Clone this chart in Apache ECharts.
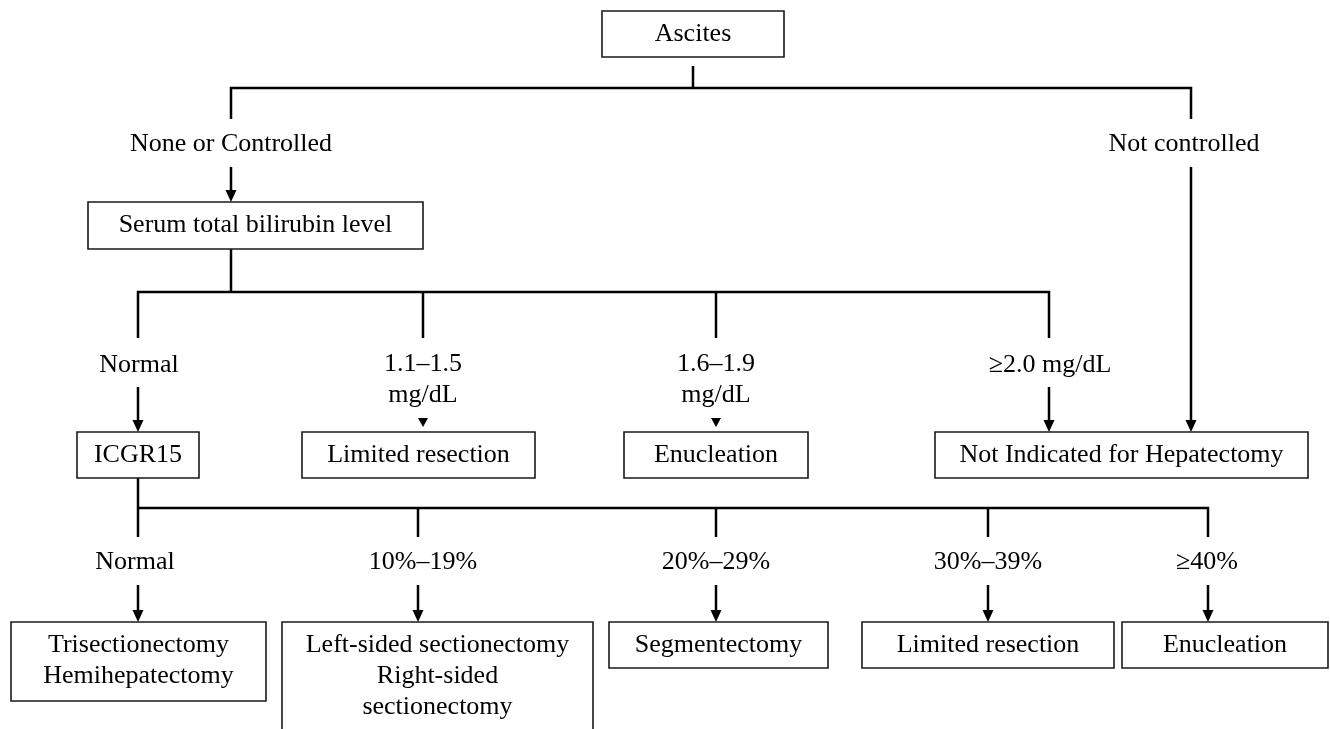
<!DOCTYPE html>
<html>
<head>
<meta charset="utf-8">
<script src="https://cdn.jsdelivr.net/npm/echarts@6/dist/echarts.min.js"></script>
<style>
html,body{margin:0;padding:0;background:#ffffff;}
#c{width:1330px;height:729px;}
</style>
</head>
<body>
<div id="c"></div>
<script>
// ---- content ----
const boxLabels = [
  'Ascites',
  'Serum total bilirubin level',
  'ICGR15',
  'Limited resection',
  'Enucleation',
  'Not Indicated for Hepatectomy',
  'Trisectionectomy\nHemihepatectomy',
  'Left-sided sectionectomy\nRight-sided\nsectionectomy',
  'Segmentectomy',
  'Limited resection',
  'Enucleation'
];
const branchLabels = [
  'None or Controlled',
  'Not controlled',
  'Normal',
  '1.1\u20131.5\nmg/dL',
  '1.6\u20131.9\nmg/dL',
  '\u22652.0 mg/dL',
  'Normal',
  '10%\u201319%',
  '20%\u201329%',
  '30%\u201339%',
  '\u226540%'
];

// ---- layout (pixel space of the 1330x729 canvas) ----
const boxRects = [
  [602, 11, 784, 57],
  [88, 202, 423, 249],
  [77, 432, 199, 478],
  [302, 432, 535, 478],
  [624, 432, 808, 478],
  [935, 432, 1308, 478],
  [11, 622, 266, 701],
  [282, 622, 593, 750],
  [609, 622, 828, 668],
  [862, 622, 1114, 668],
  [1122, 622, 1328, 668]
];
const labelPos = [
  [231, 144], [1184, 144],
  [139, 365], [423, 380], [716, 380], [1050, 365],
  [135, 562], [423, 562], [716, 562], [988, 562], [1207, 562]
];
const connectorPaths = [
  [[693, 66], [693, 88]],
  [[231, 119], [231, 88], [1191, 88], [1191, 119]],
  [[231, 249], [231, 292]],
  [[138, 338], [138, 292], [1049, 292], [1049, 338]],
  [[423, 292], [423, 338]],
  [[716, 292], [716, 338]],
  [[138, 478], [138, 537]],
  [[138, 508], [1208, 508], [1208, 537]],
  [[418, 508], [418, 537]],
  [[716, 508], [716, 537]],
  [[988, 508], [988, 537]]
];
const arrowDefs = [
  [231, 167, 202],
  [1191, 167, 432],
  [138, 387, 432],
  [1049, 387, 432],
  [138, 585, 622],
  [418, 585, 622],
  [716, 585, 622],
  [988, 585, 622],
  [1208, 585, 622]
];
const tipDefs = [
  [423, 418, 427],
  [716, 418, 427]
];

const FONT = '26px "Liberation Serif", "Times New Roman", serif';
const LINE_H = 31;

const chart = echarts.init(document.getElementById('c'), null, {renderer: 'canvas'});

const option = {
  animation: false,
  backgroundColor: '#ffffff',
  grid: {left: 0, right: 0, top: 0, bottom: 0},
  xAxis: {type: 'value', min: 0, max: 1330, show: false},
  yAxis: {type: 'value', min: 0, max: 729, inverse: true, show: false},
  series: [
    {
      type: 'custom',
      name: 'connectors',
      data: connectorPaths.map((pts, i) => [pts[0][0], pts[0][1], i]),
      renderItem: (params, api) => {
        const pts = connectorPaths[api.value(2)].map(p => api.coord(p));
        return {
          type: 'polyline',
          shape: {points: pts},
          style: {stroke: '#000', lineWidth: 2.5, fill: null, lineJoin: 'miter'}
        };
      }
    },
    {
      type: 'custom',
      name: 'arrows',
      data: arrowDefs.map(a => [a[0], a[1], a[2]]),
      renderItem: (params, api) => {
        const x = api.value(0);
        const a = api.coord([x, api.value(1)]);
        const b = api.coord([x, api.value(2)]);
        const len = 12, half = 5.5;
        return {
          type: 'group',
          children: [
            {type: 'line', shape: {x1: a[0], y1: a[1], x2: b[0], y2: b[1] - len + 1},
             style: {stroke: '#000', lineWidth: 2.5}},
            {type: 'polygon', shape: {points: [[b[0] - half, b[1] - len], [b[0] + half, b[1] - len], [b[0], b[1]]]},
             style: {fill: '#000'}}
          ]
        };
      }
    },
    {
      type: 'custom',
      name: 'tips',
      data: tipDefs.map(t => [t[0], t[1], t[2]]),
      renderItem: (params, api) => {
        const x = api.value(0);
        const a = api.coord([x, api.value(1)]);
        const b = api.coord([x, api.value(2)]);
        return {
          type: 'polygon',
          shape: {points: [[a[0] - 5, a[1]], [a[0] + 5, a[1]], [b[0], b[1]]]},
          style: {fill: '#000'}
        };
      }
    },
    {
      type: 'custom',
      name: 'boxes',
      z: 3,
      data: boxRects.map((r, i) => [r[0], r[1], r[2], r[3], i]),
      renderItem: (params, api) => {
        const p0 = api.coord([api.value(0), api.value(1)]);
        const p1 = api.coord([api.value(2), api.value(3)]);
        const label = boxLabels[api.value(4)];
        const n = label.split('\n').length;
        return {
          type: 'group',
          children: [
            {type: 'rect', shape: {x: p0[0], y: p0[1], width: p1[0] - p0[0], height: p1[1] - p0[1]},
             style: {fill: '#fff', stroke: '#1a1a1a', lineWidth: 1.6}},
            {type: 'text', style: {
              text: label,
              x: (p0[0] + p1[0]) / 2,
              y: p0[1] + 8 + n * LINE_H / 2,
              align: 'center',
              verticalAlign: 'middle',
              font: FONT,
              lineHeight: LINE_H,
              fill: '#000'
            }}
          ]
        };
      }
    },
    {
      type: 'custom',
      name: 'labels',
      z: 3,
      data: labelPos.map((p, i) => [p[0], p[1], i]),
      renderItem: (params, api) => {
        const p = api.coord([api.value(0), api.value(1)]);
        return {
          type: 'text',
          style: {
            text: branchLabels[api.value(2)],
            x: p[0], y: p[1],
            align: 'center',
            verticalAlign: 'middle',
            font: FONT,
            lineHeight: LINE_H,
            fill: '#000'
          }
        };
      }
    }
  ]
};
chart.setOption(option);
</script>
</body>
</html>
